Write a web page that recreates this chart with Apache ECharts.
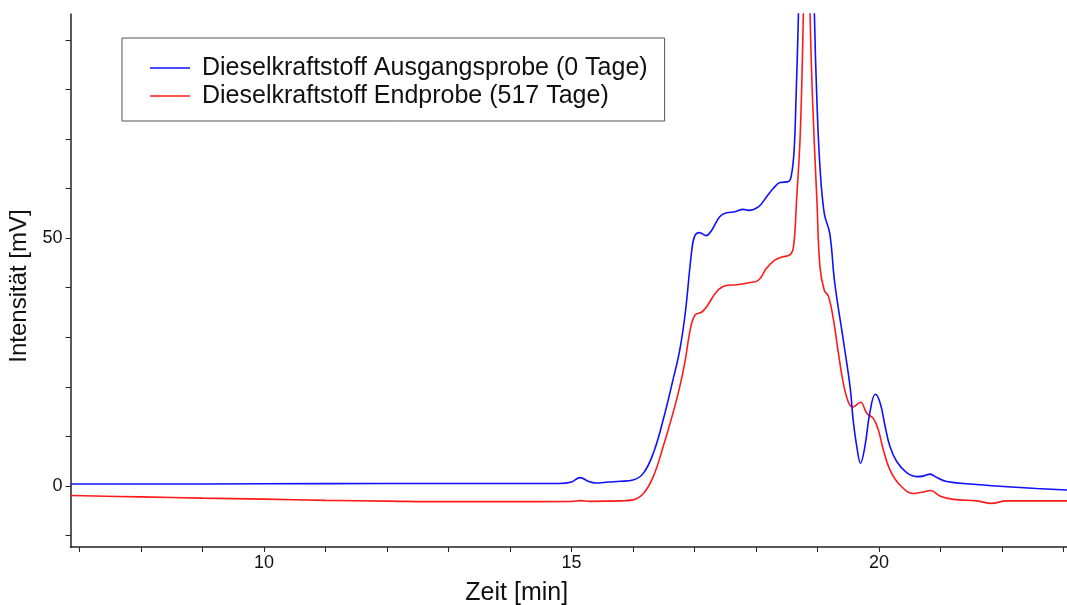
<!DOCTYPE html>
<html>
<head>
<meta charset="utf-8">
<title>Dieselkraftstoff Chromatogramm</title>
<script src="https://cdn.jsdelivr.net/npm/echarts@6/dist/echarts.min.js"></script>
<style>
  html, body { margin: 0; padding: 0; background: #fff; }
  #chart { width: 1067px; height: 605px; }
</style>
</head>
<body>
<div id="chart"></div>
<script>
// Retention time [min] and detector signal [mV] for each sample
const seriesNames = ['Dieselkraftstoff Ausgangsprobe (0 Tage)', 'Dieselkraftstoff Endprobe (517 Tage)'];

const timeStart = [6.86, 8.0, 10.0, 12.0, 14.0, 14.8, 15.0, 15.14, 15.28, 15.4, 15.6, 15.8, 16.0, 16.17, 16.33,
  16.49, 16.65, 16.76, 16.85, 16.95, 17.0, 17.08, 17.19, 17.28, 17.41, 17.52, 17.66, 17.79, 17.88, 18.04,
  18.17, 18.28, 18.39, 18.53, 18.58, 18.62, 18.65, 18.69, 18.75, 18.82, 18.89, 18.95, 18.99, 19.04, 19.11,
  19.2, 19.28, 19.42, 19.53, 19.58, 19.64, 19.7, 19.77, 19.85, 19.94, 20.02, 20.1, 20.18, 20.29, 20.45,
  20.61, 20.72, 20.83, 20.94, 21.1, 21.48, 22.02, 22.56, 23.06];
const signalStart = [0.4, 0.4, 0.45, 0.5, 0.5, 0.5, 0.8, 1.7, 0.9, 0.6, 0.8, 0.95, 1.2, 2.6, 6.6,
  13.3, 21.4, 27.4, 34.9, 46.9, 50.3, 51.1, 50.5, 51.6, 54.3, 55.1, 55.3, 55.8, 55.6, 56.3,
  58.3, 60.0, 61.2, 61.4, 63.0, 67.7, 77.8, 95, 130, 160, 130, 95, 77.8, 64.4, 55.0,
  50.9, 41.0, 29.4, 20.0, 13.3, 7.9, 4.6, 7.9, 14.7, 18.5, 16.7, 12.0, 7.9, 4.9, 2.7,
  1.9, 2.0, 2.4, 1.7, 0.9, 0.4, -0.1, -0.5, -0.8];

const timeEnd = [6.86, 8.0, 9.0, 10.0, 11.0, 12.0, 13.0, 14.0, 15.0, 15.15, 15.3, 15.8, 16.0, 16.17, 16.33,
  16.49, 16.65, 16.76, 16.85, 16.93, 17.01, 17.12, 17.2, 17.36, 17.5, 17.69, 17.88, 18.04, 18.17, 18.31,
  18.42, 18.55, 18.61, 18.66, 18.72, 18.77, 18.8, 18.83, 18.86, 18.88, 18.92, 18.99, 19.04, 19.11, 19.18,
  19.26, 19.34, 19.42, 19.5, 19.57, 19.7, 19.8, 19.91, 19.99, 20.07, 20.18, 20.34, 20.56, 20.72, 20.84,
  20.99, 21.21, 21.59, 21.83, 22.07, 22.56, 23.06];
const signalEnd = [-1.9, -2.2, -2.45, -2.65, -2.9, -3.05, -3.15, -3.15, -3.1, -2.95, -3.1, -3.0, -2.8, -1.5, 1.9,
  7.9, 14.7, 20.0, 25.4, 31.5, 34.5, 35.1, 36.2, 39.2, 40.4, 40.6, 41.0, 41.5, 43.9, 45.6,
  46.2, 46.6, 48.3, 57.7, 71.1, 95, 115, 140, 115, 95, 77.8, 57.7, 44.2, 39.5, 38.2,
  33.5, 26.8, 20.7, 17.0, 15.9, 16.9, 14.7, 13.6, 11.3, 7.3, 3.2, 0.2, -1.5, -1.2, -0.9,
  -2.0, -2.7, -3.0, -3.5, -3.0, -3.0, -3.0];

// Axis ticks and labelled values
const xTicks = [7, 8, 9, 10, 11, 12, 13, 14, 15, 16, 17, 18, 19, 20, 21, 22, 23];
const xLabels = [10, 15, 20];
const yTicks = [-10, 0, 10, 20, 30, 40, 50, 60, 70, 80, 90];
const yLabels = [0, 50];

const pairs = (xs, ys) => xs.map((x, i) => [x, ys[i]]);

const FONT = '"Liberation Sans", Arial, sans-serif';
const AXIS_COLOR = '#222';
const BLUE = '#1010ff';
const RED = '#ff1a1a';

const chart = echarts.init(document.getElementById('chart'), null, { renderer: 'canvas' });

chart.setOption({
  backgroundColor: '#fff',
  animation: false,
  textStyle: { fontFamily: FONT },
  grid: { left: 70.5, right: 0, top: 14, bottom: 58, containLabel: false, outerBoundsMode: 'none' },
  legend: {
    orient: 'vertical',
    left: 122,
    top: 38,
    padding: [17, 17, 12, 28],
    itemGap: 2,
    itemWidth: 40,
    itemHeight: 1.6,
    icon: 'rect',
    borderColor: '#555',
    borderWidth: 1,
    backgroundColor: '#fff',
    textStyle: { fontFamily: FONT, fontSize: 25, lineHeight: 26, color: '#111', padding: [0, 0, 0, 7] },
    data: seriesNames
  },
  xAxis: {
    type: 'value',
    min: 6.854,
    max: 23.057,
    name: 'Zeit [min]',
    nameLocation: 'middle',
    nameGap: 34,
    nameTextStyle: { fontFamily: FONT, fontSize: 25, color: '#111', padding: [0, 104, 0, 0] },
    axisLine: { show: true, onZero: false, lineStyle: { color: AXIS_COLOR, width: 1.5 } },
    axisTick: { show: true, inside: false, length: 5, customValues: xTicks, lineStyle: { color: AXIS_COLOR, width: 1 } },
    axisLabel: { customValues: xLabels, fontFamily: FONT, fontSize: 18, color: '#111', margin: 7 },
    splitLine: { show: false }
  },
  yAxis: {
    type: 'value',
    min: -12.3,
    max: 95.2,
    name: 'Intensität [mV]',
    nameLocation: 'middle',
    nameGap: 38,
    nameRotate: 90,
    nameTextStyle: { fontFamily: FONT, fontSize: 24, color: '#111', padding: [0, 11, 0, 0] },
    axisLine: { show: true, onZero: false, lineStyle: { color: AXIS_COLOR, width: 1.5 } },
    axisTick: { show: true, inside: false, length: 5, customValues: yTicks, lineStyle: { color: AXIS_COLOR, width: 1 } },
    axisLabel: { customValues: yLabels, fontFamily: FONT, fontSize: 18, color: '#111', margin: 8 },
    splitLine: { show: false }
  },
  series: [
    {
      name: seriesNames[0],
      type: 'line',
      data: pairs(timeStart, signalStart),
      showSymbol: false,
      symbol: 'none',
      smooth: 0.4,
      clip: true,
      z: 3,
      lineStyle: { color: BLUE, width: 1.6 },
      itemStyle: { color: BLUE }
    },
    {
      name: seriesNames[1],
      type: 'line',
      data: pairs(timeEnd, signalEnd),
      showSymbol: false,
      symbol: 'none',
      smooth: 0.4,
      clip: true,
      z: 2,
      lineStyle: { color: RED, width: 1.6 },
      itemStyle: { color: RED }
    }
  ]
});
</script>
</body>
</html>
